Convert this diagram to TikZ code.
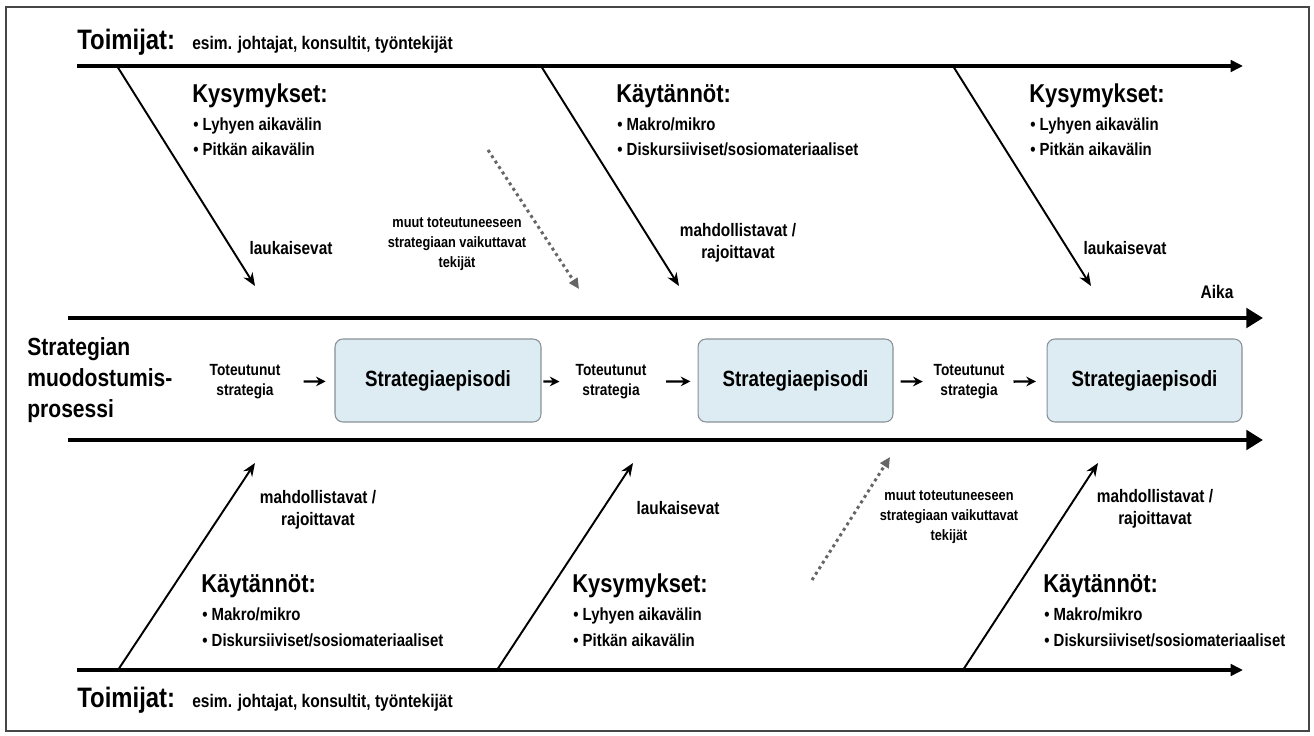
\documentclass[tikz,border=0pt]{standalone}
\usepackage{fontspec}
\setmainfont{Liberation Sans}[FakeStretch=0.85]
\usepackage{xcolor}
\usetikzlibrary{arrows.meta,positioning}
\definecolor{epfill}{RGB}{221,235,242}
\definecolor{epdraw}{RGB}{135,145,150}
\definecolor{frame}{RGB}{70,70,70}

\begin{document}
\begin{tikzpicture}[x=0.02cm, y=-0.02cm,
  actor/.style={inner sep=0pt, anchor=base west, font=\bfseries\fontsize{16}{18}\selectfont},
  actortxt/.style={inner sep=0pt, anchor=base west, font=\bfseries\fontsize{10.4}{12}\selectfont},
  head/.style={inner sep=0pt, anchor=base west, font=\bfseries\fontsize{14.7}{16}\selectfont},
  item/.style={inner sep=0pt, anchor=base west, font=\bfseries\fontsize{10}{12}\selectfont},
  lbl/.style={inner sep=0pt, align=center, font=\bfseries\fontsize{10.3}{12.5}\selectfont},
  other/.style={inner sep=0pt, align=center, font=\bfseries\fontsize{8.55}{11.3}\selectfont},
  real/.style={inner sep=0pt, align=center, font=\bfseries\fontsize{9.2}{11.3}\selectfont},
  episode/.style={rectangle, rounded corners=4.5pt, draw=epdraw, fill=epfill, line width=0.6pt, minimum height=1.66cm, font=\bfseries\fontsize{12.55}{14}\selectfont},
  rail/.style={line width=2.3pt, -{Triangle[length=7pt, width=6.5pt]}},
  timeline/.style={line width=2.8pt, -{Triangle[length=9.5pt, width=11pt]}},
  bone/.style={line width=1.1pt, -{Stealth[length=7.5pt, width=6pt]}},
  influence/.style={line width=1.7pt, dotted, black!60, -{Triangle[length=6pt, width=5.5pt]}},
  sarr/.style={line width=1.3pt, -{Stealth[length=5.5pt, width=5.5pt]}}
]
\useasboundingbox (0,0) rectangle (1314,736);
\draw[frame, line width=0.8pt] (6,7) rectangle (1309,731);

\node[actor] (toim1) at (77,50) {Toimijat:};
\node[actortxt] (esim1) at (192,50) {esim. johtajat, konsultit, työntekijät};
\node[actor] (toim2) at (77,707) {Toimijat:};
\node[actortxt] (esim2) at (192,707) {esim. johtajat, konsultit, työntekijät};

\coordinate (top0) at (77,66);
\coordinate (top1) at (1243,66);
\coordinate (mid0) at (68,318);
\coordinate (mid1) at (1263,318);
\coordinate (low0) at (68,440);
\coordinate (low1) at (1263,440);
\coordinate (bot0) at (77,670);
\coordinate (bot1) at (1243,670);
\draw[rail] (top0) -- (top1);
\draw[timeline] (mid0) -- (mid1);
\draw[timeline] (low0) -- (low1);
\draw[rail] (bot0) -- (bot1);

\node[head] (kys1) at (192,103) {Kysymykset:};
\node[item] (kys1a) at (193,131) {\textbullet\ Lyhyen aikavälin};
\node[item] (kys1b) at (193,156) {\textbullet\ Pitkän aikavälin};
\node[head] (kay1) at (616,103) {Käytännöt:};
\node[item] (kay1a) at (617,131) {\textbullet\ Makro/mikro};
\node[item] (kay1b) at (617,156) {\textbullet\ Diskursiiviset/sosiomateriaaliset};
\node[head] (kys2) at (1029,103) {Kysymykset:};
\node[item] (kys2a) at (1030,131) {\textbullet\ Lyhyen aikavälin};
\node[item] (kys2b) at (1030,156) {\textbullet\ Pitkän aikavälin};

\node[head] (kay2) at (201,592) {Käytännöt:};
\node[item] (kay2a) at (202,620) {\textbullet\ Makro/mikro};
\node[item] (kay2b) at (202,646) {\textbullet\ Diskursiiviset/sosiomateriaaliset};
\node[head] (kys3) at (572,592) {Kysymykset:};
\node[item] (kys3a) at (573,620) {\textbullet\ Lyhyen aikavälin};
\node[item] (kys3b) at (573,646) {\textbullet\ Pitkän aikavälin};
\node[head] (kay3) at (1043,592) {Käytännöt:};
\node[item] (kay3a) at (1044,620) {\textbullet\ Makro/mikro};
\node[item] (kay3b) at (1044,646) {\textbullet\ Diskursiiviset/sosiomateriaaliset};

\coordinate (b1s) at (117,66);
\coordinate (b1e) at (255,286);
\coordinate (b2s) at (541,66);
\coordinate (b2e) at (679,286);
\coordinate (b3s) at (953,66);
\coordinate (b3e) at (1091,286);
\coordinate (b4s) at (118,670);
\coordinate (b4e) at (255,463);
\coordinate (b5s) at (497,670);
\coordinate (b5e) at (633,463);
\coordinate (b6s) at (963,670);
\coordinate (b6e) at (1098,463);
\draw[bone] (b1s) -- (b1e);
\draw[bone] (b2s) -- (b2e);
\draw[bone] (b3s) -- (b3e);
\draw[bone] (b4s) -- (b4e);
\draw[bone] (b5s) -- (b5e);
\draw[bone] (b6s) -- (b6e);

\coordinate (d1s) at (488,150);
\coordinate (d1e) at (579,289);
\coordinate (d2s) at (812,580);
\coordinate (d2e) at (890,457);
\draw[influence] (d1s) -- (d1e);
\draw[influence] (d2s) -- (d2e);

\node[lbl] (lau1) at (291,248) {laukaisevat};
\node[other] (muu1) at (457,244) {muut toteutuneeseen\\strategiaan vaikuttavat\\tekijät};
\node[lbl] (mah1) at (738,243) {mahdollistavat /\\rajoittavat};
\node[lbl] (lau2) at (1125,248) {laukaisevat};
\node[lbl] (mah2) at (318,510) {mahdollistavat /\\rajoittavat};
\node[lbl] (lau3) at (678,508) {laukaisevat};
\node[other] (muu2) at (949,517) {muut toteutuneeseen\\strategiaan vaikuttavat\\tekijät};
\node[lbl] (mah3) at (1155,509) {mahdollistavat /\\rajoittavat};

\node[lbl, font=\bfseries\fontsize{10.4}{12}\selectfont] (aika) at (1217,292) {Aika};
\node[inner sep=0pt, anchor=west, align=left, font=\bfseries\fontsize{14.1}{17.6}\selectfont] (proc) at (27,380) {Strategian\\muodostumis-\\prosessi};

\node[real] (ts1) at (245,382) {Toteutunut\\strategia};
\node[episode, minimum width=4.12cm] (ep1) at (438,380.5) {Strategiaepisodi};
\node[real] (ts2) at (611,382) {Toteutunut\\strategia};
\node[episode, minimum width=3.9cm] (ep2) at (795.5,380.5) {Strategiaepisodi};
\node[real] (ts3) at (969,382) {Toteutunut\\strategia};
\node[episode, minimum width=3.9cm] (ep3) at (1144.5,380.5) {Strategiaepisodi};
\draw[sarr, shorten <=13pt, shorten >=5pt] (ts1) -- (ep1);
\draw[sarr, shorten <=1pt, shorten >=9pt] (ep1) -- (ts2);
\draw[sarr, shorten <=11pt, shorten >=4pt] (ts2) -- (ep2);
\draw[sarr, shorten <=4pt, shorten >=6pt] (ep2) -- (ts3);
\draw[sarr, shorten <=5pt, shorten >=6pt] (ts3) -- (ep3);
\end{tikzpicture}
\end{document}
